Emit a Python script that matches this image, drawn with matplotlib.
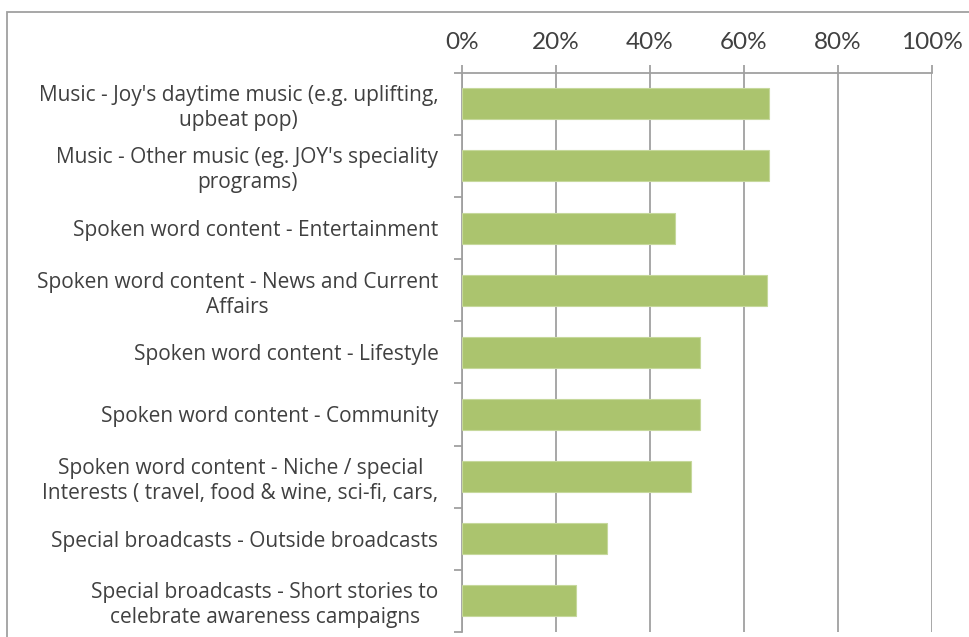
import matplotlib
matplotlib.use("Agg")
import matplotlib.pyplot as plt
import numpy as np
from matplotlib.patches import Rectangle
from matplotlib.ticker import PercentFormatter, FixedLocator

plt.rcParams['font.family'] = ['Lato', 'DejaVu Sans']

categories = [
    "Music - Joy's daytime music (e.g. uplifting,\nupbeat pop)",
    "Music - Other music (eg. JOY's speciality\nprograms)",
    "Spoken word content - Entertainment",
    "Spoken word content - News and Current\nAffairs",
    "Spoken word content - Lifestyle",
    "Spoken word content - Community",
    "Spoken word content - Niche / special\nInterests ( travel, food & wine, sci-fi, cars,",
    "Special broadcasts - Outside broadcasts",
    "Special broadcasts - Short stories to\ncelebrate awareness campaigns",
]
shares = [65.3, 65.3, 45.4, 64.9, 50.7, 50.7, 48.8, 30.9, 24.3]
x_ticks = [0, 20, 40, 60, 80, 100]

bar_color = '#abc46e'
grid_color = '#a0a0a0'
text_color = '#404040'

fig = plt.figure(figsize=(9.7, 6.37), dpi=100)

# chart frame (open on right and bottom)
frame = Rectangle((7.4 / 970, -0.05), 1.1, 1 - 11.5 / 637 + 0.05,
                  transform=fig.transFigure, fill=False,
                  edgecolor=grid_color, linewidth=1.3, zorder=0)
fig.patches.append(frame)

ax = fig.add_axes([462 / 970, 1 - 632 / 637, 470 / 970, (632 - 72.7) / 637])

y = np.arange(len(categories))
ax.barh(y, shares, height=0.5, color=bar_color, edgecolor='#c6d89c',
        linewidth=0.8, zorder=3)

ax.set_xlim(0, 100)
ax.set_ylim(len(categories) - 0.5, -0.5)

ax.xaxis.set_major_locator(FixedLocator(x_ticks))
ax.xaxis.set_major_formatter(PercentFormatter(decimals=0))
ax.xaxis.tick_top()
ax.tick_params(axis='x', which='major', top=True, bottom=False,
               direction='out', length=6, width=1.3, color=grid_color,
               labelsize=17.5, labelcolor=text_color, pad=8)
ax.grid(axis='x', color=grid_color, linewidth=1.3, zorder=1)

ax.set_yticks(y)
ax.set_yticklabels(categories, multialignment='center', linespacing=1.25,
                   family=['Open Sans', 'DejaVu Sans'])
ax.yaxis.set_minor_locator(FixedLocator(np.arange(len(categories) + 1) - 0.5))
ax.tick_params(axis='y', which='major', length=0, pad=17,
               labelsize=15.0, labelcolor=text_color)
ax.tick_params(axis='y', which='minor', length=6, width=1.3,
               color=grid_color, direction='out')

for side in ('right', 'bottom'):
    ax.spines[side].set_visible(False)
for side in ('left', 'top'):
    ax.spines[side].set_color(grid_color)
    ax.spines[side].set_linewidth(1.3)
ax.set_axisbelow(True)

fig.savefig('out.png', dpi=100)
